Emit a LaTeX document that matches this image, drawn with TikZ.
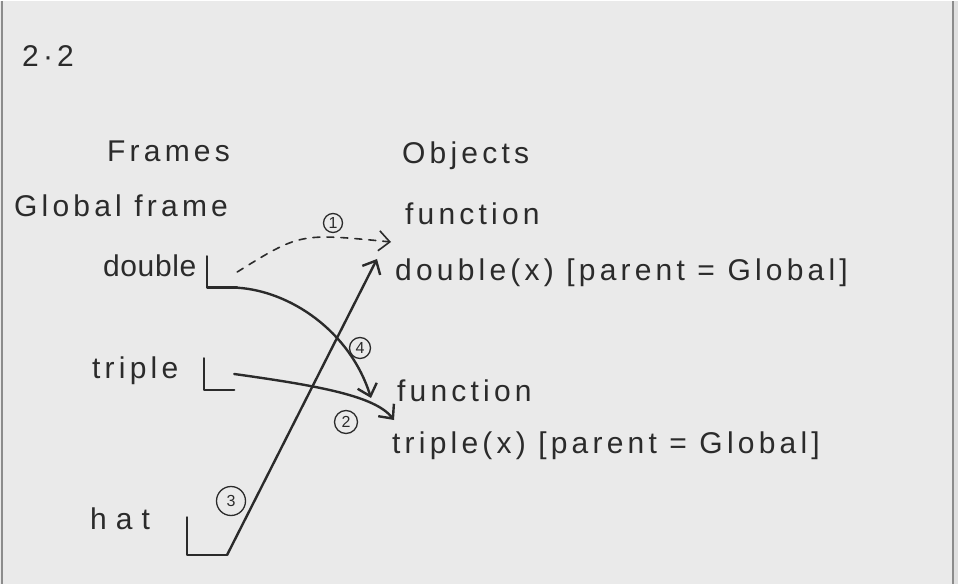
\documentclass[tikz,border=0pt]{standalone}
\usepackage{fontspec}
\newfontfamily\hand[LetterSpace=14]{Liberation Sans}
\newfontfamily\handtight[LetterSpace=2]{Liberation Sans}
\newfontfamily\handwide[LetterSpace=30]{Liberation Sans}
\usetikzlibrary{arrows.meta}
\definecolor{paper}{HTML}{EAEAEA}
\definecolor{ink}{HTML}{2B2B2B}
\definecolor{rim}{HTML}{8C8C8C}
\begin{document}
\begin{tikzpicture}[x=1pt,y=-1pt,
        txt/.style={anchor=west,inner sep=0pt,text=ink,font=\hand\fontsize{30}{34}\selectfont},
        slot/.style={minimum width=30pt,minimum height=31pt,inner sep=0pt},
        pen/.style={draw=ink,line width=2.4pt,line cap=round,line join=round},
        ptr/.style={pen,-{Straight Barb[length=11pt,width=20pt]}},
        num/.style={circle,draw=ink,line width=1.3pt,inner sep=0pt,text=ink,font=\hand\fontsize{16}{16}\selectfont}]
    % sheet
    \fill[paper] (0,0) rectangle (958,583);
    \fill[black!12] (954,0) rectangle (958,583);
    \draw[rim,line width=2pt] (1.5,0) -- (1.5,583) (953,0) -- (953,583);
    % frames
    \node[txt] (sec) at (22,55) {2·2};
    \node[txt] (frames) at (107,150) {Frames};
    \node[txt] (global) at (14,205) {Global frame};
    \node[txt,font=\handtight\fontsize{30}{34}\selectfont] (dname) at (103,265) {double};
    \node[txt] (tname) at (92,370) {triple};
    \node[txt,font=\handwide\fontsize{30}{34}\selectfont] (hname) at (90,518) {hat};
    \node[slot] (dslot) at (222,271) {};
    \node[slot] (tslot) at (219,373) {};
    \node[slot,minimum width=40pt,minimum height=37pt] (hslot) at (207,535) {};
    \draw[pen] (dslot.north west) |- (dslot.south east)
               (tslot.north west) |- (tslot.south east)
               (hslot.north west) |- (hslot.south east);
    % objects
    \node[txt] (objects) at (402,155) {Objects};
    \node[txt] (dfun) at (405,213) {function};
    \node[txt] (dobj) at (395,272) {double(x) [parent = Global]};
    \node[txt] (tfun) at (397,390) {function};
    \node[txt] (tobj) at (392,445) {triple(x) [parent = Global]};
    % arrow ends
    \coordinate (dtip) at (391,241);
    \coordinate (utip) at (377,258);
    \coordinate (ftip) at (371,397);
    \coordinate (ttip) at (394,419);
    % bindings
    \draw[ptr,line width=1.6pt,dash pattern=on 7pt off 7pt] (dslot.east) .. controls (300,232) .. (dtip);
    \draw[ptr] (dslot.south east) .. controls (290,290) and (350,330) .. (ftip);
    \draw[ptr] (tslot.east) .. controls (320,385) and (375,395) .. (ttip);
    \draw[ptr] (hslot.south east) -- (utip);
    % steps
    \node[num,minimum size=19pt] (n1) at (333,222) {1};
    \node[num,minimum size=23pt] (n2) at (346,421) {2};
    \node[num,minimum size=29pt] (n3) at (231,500) {3};
    \node[num,minimum size=21pt] (n4) at (360,347) {4};
\end{tikzpicture}
\end{document}
